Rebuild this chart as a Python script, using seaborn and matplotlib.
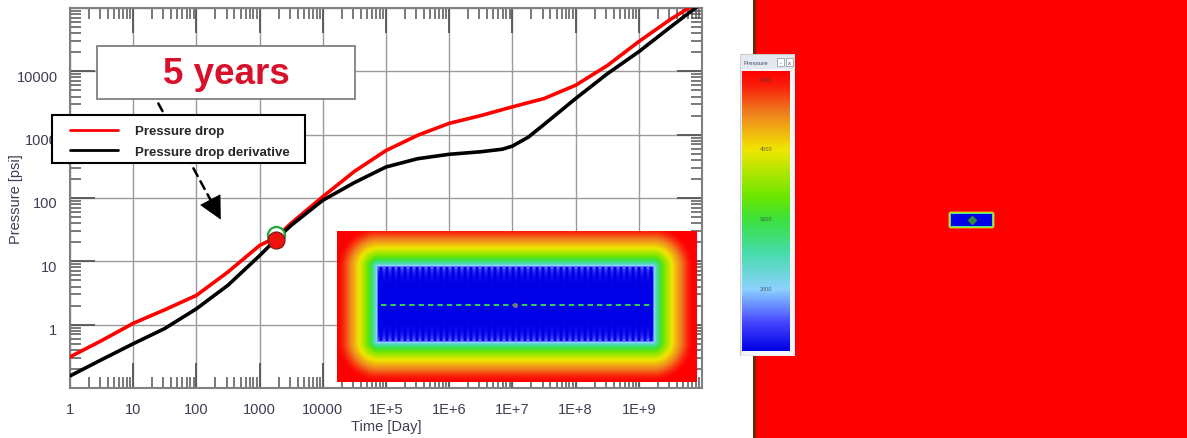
import numpy as np
import pandas as pd
import matplotlib
matplotlib.use("Agg")
import matplotlib.pyplot as plt
import seaborn as sns
from matplotlib.colors import LinearSegmentedColormap, Normalize
from matplotlib.patches import Rectangle, FancyArrowPatch
from matplotlib.lines import Line2D
from matplotlib.ticker import FixedLocator, FixedFormatter, LogLocator, NullFormatter
from matplotlib.transforms import ScaledTranslation

# ---- type curves (time in days, pressure in psi) ----
drop_time = [1, 3.16, 10, 31.6, 100, 316, 1000, 1826, 3160, 1e4, 3.16e4,
             1e5, 3.16e5, 1e6, 3.16e6, 1e7, 3.16e7, 1e8, 3.16e8, 1e9, 3.16e9, 1e10]
drop_psi = [0.31, 0.56, 1.05, 1.72, 2.9, 6.8, 17.8, 24, 40, 105, 263,
            562, 977, 1510, 2000, 2750, 3715, 6030, 12300, 29500, 66000, 135000]

deriv_time = [1, 3.16, 10, 31.6, 100, 316, 1000, 1826, 3160, 1e4, 3.16e4,
              1e5, 3.16e5, 1e6, 3.16e6, 6.9e6, 1e7, 1.78e7, 3.16e7, 1e8,
              3.16e8, 1e9, 3.16e9, 1e10]
deriv_psi = [0.155, 0.28, 0.50, 0.87, 1.78, 4.2, 12.3, 22.4, 37, 92, 175,
             309, 417, 490, 537, 589, 660, 912, 1445, 3715,
             9120, 20400, 50000, 120000]

series_names = ["Pressure drop", "Pressure drop derivative"]
series_colors = ["#ff0000", "#000000"]

# five years of production
marker_time = 1826
marker_drop = 22
marker_deriv = 26.5

x_major = [1, 10, 100, 1e3, 1e4, 1e5, 1e6, 1e7, 1e8, 1e9, 1e10]
x_labels = ["1", "10", "100", "1000", "10000", "1E+5", "1E+6", "1E+7", "1E+8", "1E+9", ""]
y_major = [0.1, 1, 10, 100, 1e3, 1e4, 1e5]
y_labels = ["", "1", "10", "100", "1000", "10000", ""]

colorbar_values = [5000, 4000, 3000, 2000]
colorbar_min, colorbar_max = 1096, 5115

# ---- style ----
sns.set_theme(style="white")
plt.rcParams["font.family"] = ["Liberation Sans", "DejaVu Sans"]

W, H = 1187, 439
fig = plt.figure(figsize=(W / 100, H / 100), dpi=100)
fig.patch.set_facecolor("white")


def fx(px):
    return px / W


def fy(py):
    return 1 - py / H


pressure_cmap = LinearSegmentedColormap.from_list(
    "pressure",
    [(0.00, "#0000e6"), (0.10, "#4646ff"), (0.22, "#8cd2ff"), (0.35, "#46dcaa"),
     (0.47, "#3ce13c"), (0.55, "#6ae600"), (0.72, "#f0e600"), (0.85, "#f08220"),
     (0.95, "#fa1e0a"), (1.00, "#ff0000")])

# ---- main log-log plot ----
ax = fig.add_axes([fx(70), fy(389), 632 / W, 380 / H])
df = pd.DataFrame({
    "Time": drop_time + deriv_time,
    "Pressure": drop_psi + deriv_psi,
    "Series": [series_names[0]] * len(drop_time) + [series_names[1]] * len(deriv_time),
})
sns.lineplot(data=df, x="Time", y="Pressure", hue="Series",
             palette=dict(zip(series_names, series_colors)),
             linewidth=2.6, errorbar=None, legend=False, ax=ax, zorder=3)
ax.set_xscale("log")
ax.set_yscale("log")
ax.set_xlim(1, 1e10)
ax.set_ylim(0.1, 1e5)
ax.set_xlabel("")
ax.set_ylabel("")

ax.xaxis.set_major_locator(FixedLocator(x_major))
ax.xaxis.set_major_formatter(FixedFormatter(x_labels))
ax.yaxis.set_major_locator(FixedLocator(y_major))
ax.yaxis.set_major_formatter(FixedFormatter(y_labels))
for axis in (ax.xaxis, ax.yaxis):
    axis.set_minor_locator(LogLocator(base=10, subs=np.arange(2, 10), numticks=30))
    axis.set_minor_formatter(NullFormatter())

label_color = "#3d3d55"
ax.tick_params(which="both", direction="in", top=True, right=True,
               bottom=True, left=True, color="#555555")
ax.tick_params(which="major", length=18, width=1.3, labelsize=10.5,
               labelcolor=label_color)
ax.tick_params(which="minor", length=8, width=1.1)
ax.tick_params(axis="x", which="major", pad=10)
ax.tick_params(axis="y", which="major", pad=9)
ax.grid(which="major", color="#9a9a9a", linewidth=1.0)
ax.grid(which="minor", visible=False)
for sp in ax.spines.values():
    sp.set_color("#808080")
    sp.set_linewidth(1.5)

ylab_shift = ScaledTranslation(0, -0.04, fig.dpi_scale_trans)
for lab in ax.get_yticklabels():
    lab.set_transform(lab.get_transform() + ylab_shift)

fig.text(fx(16), fy(199), "Pressure [psi]", rotation=90, ha="center", va="center",
         fontsize=10.5, color=label_color)
fig.text(fx(386), fy(427), "Time [Day]", ha="center", va="center",
         fontsize=10.5, color=label_color)

# markers at five years
marker_df = pd.DataFrame({"Time": [marker_time], "Pressure": [marker_deriv]})
sns.scatterplot(data=marker_df, x="Time", y="Pressure", s=150, facecolor="white",
                edgecolor="#1fa83a", linewidth=1.6, ax=ax, zorder=4, legend=False)
marker_df2 = pd.DataFrame({"Time": [marker_time], "Pressure": [marker_drop]})
sns.scatterplot(data=marker_df2, x="Time", y="Pressure", s=150, color="#f01010",
                edgecolor="#6a1a1a", linewidth=0.8, ax=ax, zorder=5, legend=False)
ax.set_xlabel("")
ax.set_ylabel("")

# "5 years" call-out
ax.add_patch(Rectangle((fx(97), fy(100)), fx(355) - fx(97), fy(47) - fy(100),
                       transform=fig.transFigure, facecolor="white",
                       edgecolor="#808080", linewidth=1.3, zorder=6, clip_on=False))
ax.text(fx(226), fy(74), "5 years", transform=fig.transFigure, ha="center",
        va="center", fontsize=26.5, fontweight="bold", color="#d8102c", zorder=7)

# dashed pointer
ax.add_patch(FancyArrowPatch((fx(157), fy(102)), (fx(216), fy(211)),
                             transform=fig.transFigure, arrowstyle="-",
                             linestyle=(0, (3.5, 2.4)), linewidth=1.8,
                             color="black", zorder=6, clip_on=False))
ax.add_patch(FancyArrowPatch((fx(212), fy(204)), (fx(222), fy(223)),
                             transform=fig.transFigure,
                             arrowstyle="-|>,head_length=0.55,head_width=0.28",
                             mutation_scale=28, linewidth=0.5, color="black",
                             zorder=6, clip_on=False))

# legend box
ax.add_patch(Rectangle((fx(52), fy(164)), fx(305) - fx(52), fy(116) - fy(164),
                       transform=fig.transFigure, facecolor="white",
                       edgecolor="black", linewidth=1.5, zorder=8, clip_on=False))
handles = [Line2D([], [], color=c, linewidth=2.0) for c in series_colors]
leg = ax.legend(handles, series_names, loc="upper left",
                bbox_to_anchor=(fx(70), fy(126)), bbox_transform=fig.transFigure,
                frameon=False, borderpad=0, borderaxespad=0, handlelength=3.6,
                handletextpad=1.3, labelspacing=0.62,
                prop={"weight": "bold", "size": 9.5})
leg.set_zorder(9)

# ---- inset: pressure map of the drained region ----
ins = fig.add_axes([fx(337), fy(383), 360 / W, 151 / H])
nx_i, ny_i = 360, 151
xi, yi = np.meshgrid(np.arange(nx_i) + 0.5, np.arange(ny_i) + 0.5)
rx0, rx1, ry0, ry1 = 41, 316, 36, 110
dx = np.maximum(np.maximum(rx0 - xi, xi - rx1), 0)
dy = np.maximum(np.maximum(ry0 - yi, yi - ry1), 0)
dist = np.hypot(dx, dy)
field = np.clip(dist / 40.0, 0, 1) ** 0.45
inside = dist == 0
edge_gap = np.minimum(yi - ry0, ry1 - yi)
stripes = 0.5 + 0.5 * np.cos(2 * np.pi * (xi - rx0) / 6.0)
field = np.where(inside, 0.17 * stripes * np.exp(-np.clip(edge_gap, 0, None) / 5.0), field)
ins.imshow(field, cmap=pressure_cmap, vmin=0, vmax=1, aspect="auto",
           extent=(0, nx_i, ny_i, 0), interpolation="bilinear")
ins.plot([44, 314], [73.5, 73.5], color="#39e04a", linestyle=(0, (3, 2.2)), linewidth=1.3)
ins.plot([178], [73.5], marker="o", markersize=2.5, color="#777777")
ins.set_xlim(0, nx_i)
ins.set_ylim(ny_i, 0)
ins.axis("off")

# ---- right panel: full reservoir view ----
rp = fig.add_axes([fx(753), 0, 434 / W, 1])
nx_r, ny_r = 434, 439
xr, yr = np.meshgrid(np.arange(nx_r) + 0.5, np.arange(ny_r) + 0.5)
bx0, bx1, by0, by1 = 198, 239, 215, 227
ddx = np.maximum(np.maximum(bx0 - xr, xr - bx1), 0)
ddy = np.maximum(np.maximum(by0 - yr, yr - by1), 0)
field_r = np.clip(np.hypot(ddx, ddy) / 3.0, 0, 1) ** 0.6
rp.imshow(field_r, cmap=pressure_cmap, vmin=0, vmax=1, aspect="auto",
          extent=(0, nx_r, ny_r, 0), interpolation="bilinear")
rp.plot([219], [221], marker="D", markersize=4, color="#2e8b3a")
rp.add_patch(Rectangle((0, 0), 3, ny_r, facecolor="#6b2a0a", edgecolor="none"))
rp.set_xlim(0, nx_r)
rp.set_ylim(ny_r, 0)
rp.axis("off")

# ---- colour legend window ----
win = fig.add_axes([fx(740), fy(357), 55 / W, 302 / H])
win.set_xlim(0, 55)
win.set_ylim(302, 0)
win.add_patch(Rectangle((0, 0), 55, 302, facecolor="#f3f5f8", edgecolor="#c8ccd2", linewidth=1))
win.add_patch(Rectangle((1, 1), 53, 14, facecolor="#e4e9f0", edgecolor="none"))
win.text(3, 8.5, "Pressure", fontsize=4.5, color="#40506a", va="center")
win.add_patch(Rectangle((37, 4), 7, 8, facecolor="white", edgecolor="#8890a0", linewidth=0.5))
win.add_patch(Rectangle((46, 4), 7, 8, facecolor="white", edgecolor="#8890a0", linewidth=0.5))
win.text(40.5, 8.3, "-", fontsize=4, ha="center", va="center", color="#333")
win.text(49.5, 8.3, "x", fontsize=4, ha="center", va="center", color="#333")
win.axis("off")

bar = fig.add_axes([fx(742), fy(352), 48 / W, 280 / H])
grad = np.linspace(colorbar_min, colorbar_max, 256)[:, None]
bar.imshow(grad, cmap=pressure_cmap, norm=Normalize(colorbar_min, colorbar_max),
           aspect="auto", origin="lower", extent=(0, 1, colorbar_min, colorbar_max))
for v in colorbar_values:
    bar.text(0.5, v, str(v), fontsize=4, ha="center", va="center", color="#3a3a3a", alpha=0.75)
bar.set_xlim(0, 1)
bar.set_ylim(colorbar_min, colorbar_max)
bar.axis("off")

fig.savefig("out.png", dpi=100)
